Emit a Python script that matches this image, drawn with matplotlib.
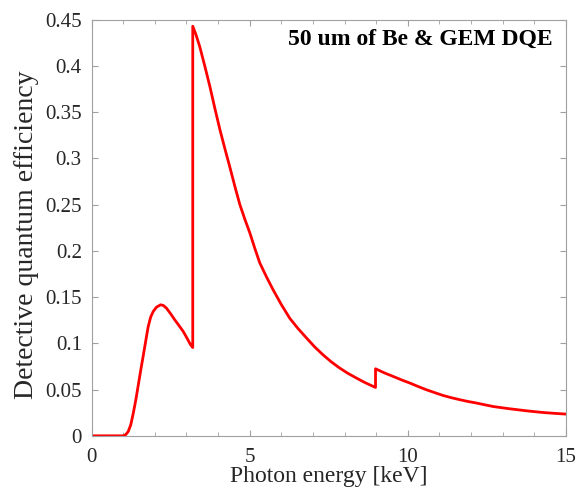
"""
DQE of a GEM detector behind a 50 um Be window.
"""

import matplotlib
matplotlib.use("Agg")
import matplotlib.pyplot as plt
from matplotlib.ticker import MultipleLocator

# photon energy [keV] and detective quantum efficiency
# (Ar K edge at 3.2 keV, Cu K edge at 8.98 keV -> repeated x values)
energy = [0.0, 1.0, 1.08, 1.16, 1.24, 1.32, 1.40, 1.47, 1.55, 1.63, 1.71, 1.79, 1.87,
          1.95, 2.05, 2.18, 2.27, 2.37, 2.50, 2.63, 2.77, 2.90, 3.02, 3.13, 3.2,
          3.2, 3.3, 3.42, 3.58, 3.74, 3.90, 4.06, 4.22, 4.37, 4.53, 4.69, 4.85, 5.01,
          5.16, 5.32, 5.53, 5.74, 6.0, 6.27, 6.53, 6.80, 7.06, 7.32, 7.58, 7.85, 8.11,
          8.38, 8.65, 8.98,
          8.98, 9.25, 9.54, 9.80, 10.07, 10.33, 10.59, 10.86, 11.12, 11.38, 11.65,
          11.91, 12.18, 12.44, 12.70, 12.97, 13.23, 13.50, 13.76, 14.02, 14.28, 14.64,
          15.0]
dqe = [0.0, 0.0, 0.0012, 0.0047, 0.012, 0.0246, 0.039, 0.0534, 0.070, 0.0858, 0.102,
       0.118, 0.1285, 0.1345, 0.139, 0.1417, 0.141, 0.138, 0.132, 0.1255, 0.119,
       0.1128, 0.1055, 0.0985, 0.0955,
       0.443, 0.434, 0.421, 0.400, 0.378, 0.354, 0.331, 0.310, 0.291, 0.270, 0.250,
       0.234, 0.219, 0.203, 0.187, 0.172, 0.158, 0.142, 0.127, 0.116, 0.1057, 0.096,
       0.0876, 0.080, 0.0732, 0.0675, 0.0624, 0.0575, 0.0523,
       0.0725, 0.0682, 0.0642, 0.0605, 0.0570, 0.0533, 0.0498, 0.0466, 0.0436, 0.0412,
       0.039, 0.0371, 0.0354, 0.0335, 0.0317, 0.0304, 0.0292, 0.0281, 0.027, 0.0261,
       0.0252, 0.0243, 0.0235]

x_ticks = [0, 5, 10, 15]
y_ticks = [0, 0.05, 0.1, 0.15, 0.2, 0.25, 0.3, 0.35, 0.4, 0.45]
y_labels = ["0", "0.05", "0.1", "0.15", "0.2", "0.25", "0.3", "0.35", "0.4", "0.45"]

plt.rcParams["font.family"] = ["Liberation Serif", "DejaVu Serif"]

fig = plt.figure(figsize=(5.87, 4.93), dpi=100)
ax = fig.add_axes([0.156, 0.116, 0.808, 0.844])

ax.plot(energy, dqe, color="#ff0000", lw=2.0, solid_joinstyle="round")

ax.set_xlim(0, 15)
ax.set_ylim(0, 0.45)
ax.set_xticks(x_ticks)
ax.set_yticks(y_ticks)
ax.set_yticklabels(y_labels)
ax.xaxis.set_minor_locator(MultipleLocator(1))

for s in ax.spines.values():
    s.set_color("#a0a0a0")
    s.set_linewidth(0.8)
ax.tick_params(which="both", direction="in", top=True, right=True,
               color="#a0a0a0", labelcolor="#262626", labelsize=15)
ax.tick_params(which="major", length=4)
ax.tick_params(which="minor", length=3)
ax.tick_params(axis="x", pad=9)
ax.tick_params(axis="y", pad=7)

ax.set_xlabel("Photon energy [keV]", fontsize=17, color="#262626", labelpad=-1)
ax.set_ylabel("Detective quantum efficiency", fontsize=20, color="#262626")
ax.yaxis.set_label_coords(-0.11, 0.483)

ax.text(0.973, 0.978, "50 um of Be & GEM DQE", transform=ax.transAxes,
        ha="right", va="top", fontsize=17, fontweight="bold", color="black")

fig.savefig("out.png", dpi=100)
